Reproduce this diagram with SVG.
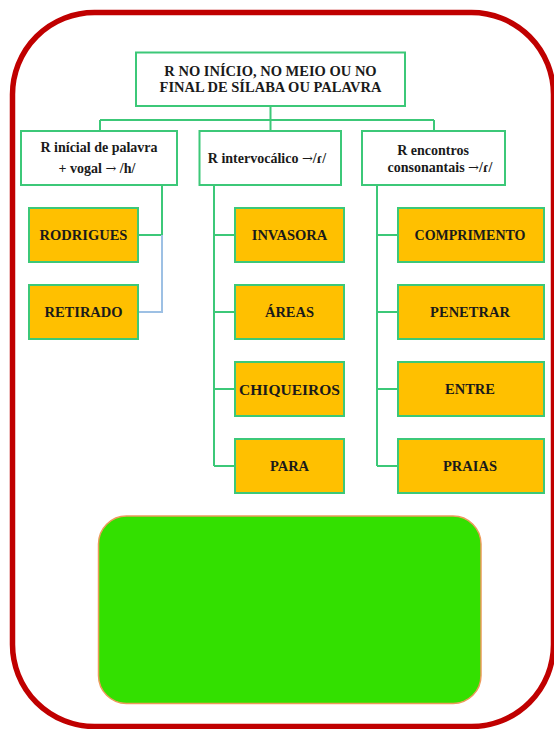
<svg xmlns="http://www.w3.org/2000/svg" width="554" height="729" viewBox="0 0 554 729">
<style>
.hdr{fill:#ffffff;stroke:#3cc878;stroke-width:2}
.word{fill:#ffc000;stroke:#3cc878;stroke-width:2}
.t{font-family:"Liberation Serif","Times New Roman",serif;font-weight:bold;fill:#1a1a1a;text-anchor:middle}
.t14{font-size:14px}
.ar{font-family:"DejaVu Serif",serif;font-weight:normal;font-size:13px}
.conn{fill:none;stroke:#3cc878;stroke-width:2}
.connb{fill:none;stroke:#9dc0e4;stroke-width:2}
</style>
<rect x="12.5" y="12.5" width="541" height="714" rx="82" ry="82" fill="#ffffff" stroke="#c00000" stroke-width="5.5"/>
<g id="connectors">
<path class="conn" d="M270.5 106V120M100 120H434M100 120V131M270.5 120V131M434 120V131"/>
<path class="conn" d="M162 185V235H138"/>
<path class="connb" d="M162 235V312H138"/>
<path class="conn" d="M214 185V466M214 235H235M214 312H235M214 389H235M214 466H235"/>
<path class="conn" d="M377 185V466M377 235H398M377 312H398M377 389H398M377 466H398"/>
</g>
<g id="root">
<rect class="hdr" x="136" y="52.5" width="269" height="53.5"/>
<text class="t" x="270.5" y="76" font-size="14.5">R NO INÍCIO, NO MEIO OU NO</text>
<text class="t" x="270.5" y="92" font-size="14.5">FINAL DE SÍLABA OU PALAVRA</text>
</g>
<g id="cat-inicial">
<rect class="hdr" x="21" y="131" width="156" height="54"/>
<text class="t t14" x="99" y="152">R inícial de palavra</text>
<text class="t t14" x="97" y="173">+ vogal <tspan class="ar">→</tspan> /h/</text>
</g>
<g id="cat-intervocalico">
<rect class="hdr" x="199.5" y="131" width="141.5" height="54"/>
<text class="t t14" x="267" y="163">R intervocálico <tspan class="ar">→</tspan>/ɾ/</text>
</g>
<g id="cat-encontros">
<rect class="hdr" x="362" y="131" width="143" height="54"/>
<text class="t t14" x="433" y="155">R encontros</text>
<text class="t t14" x="440" y="172">consonantais <tspan class="ar">→</tspan>/ɾ/</text>
</g>
<g id="w-rodrigues"><rect class="word" x="29" y="208" width="109" height="54"/><text class="t" x="83.5" y="240" font-size="14.5">RODRIGUES</text></g>
<g id="w-retirado"><rect class="word" x="29" y="285" width="109" height="54"/><text class="t" x="83.5" y="317" font-size="14.5">RETIRADO</text></g>
<g id="w-invasora"><rect class="word" x="235" y="208" width="109" height="54"/><text class="t" x="289.5" y="240" font-size="14.5">INVASORA</text></g>
<g id="w-areas"><rect class="word" x="235" y="285" width="109" height="54"/><text class="t" x="289.5" y="317" font-size="14.5">ÁREAS</text></g>
<g id="w-chiqueiros"><rect class="word" x="235" y="362" width="109" height="54"/><text class="t" x="289.5" y="394.5" font-size="15.5">CHIQUEIROS</text></g>
<g id="w-para"><rect class="word" x="235" y="439" width="109" height="54"/><text class="t" x="289.5" y="471" font-size="14.5">PARA</text></g>
<g id="w-comprimento"><rect class="word" x="398" y="208" width="146" height="54"/><text class="t" x="470" y="240" font-size="14">COMPRIMENTO</text></g>
<g id="w-penetrar"><rect class="word" x="398" y="285" width="146" height="54"/><text class="t" x="470" y="317" font-size="14.5">PENETRAR</text></g>
<g id="w-entre"><rect class="word" x="398" y="362" width="146" height="54"/><text class="t" x="470" y="394" font-size="14.5">ENTRE</text></g>
<g id="w-praias"><rect class="word" x="398" y="439" width="146" height="54"/><text class="t" x="470" y="471" font-size="14.5">PRAIAS</text></g>
<g id="green-panel">
<rect x="98.5" y="516" width="382.5" height="187.5" rx="28" ry="28" fill="#33e000" stroke="#ed9a5a" stroke-width="1.5"/>
</g>
</svg>
